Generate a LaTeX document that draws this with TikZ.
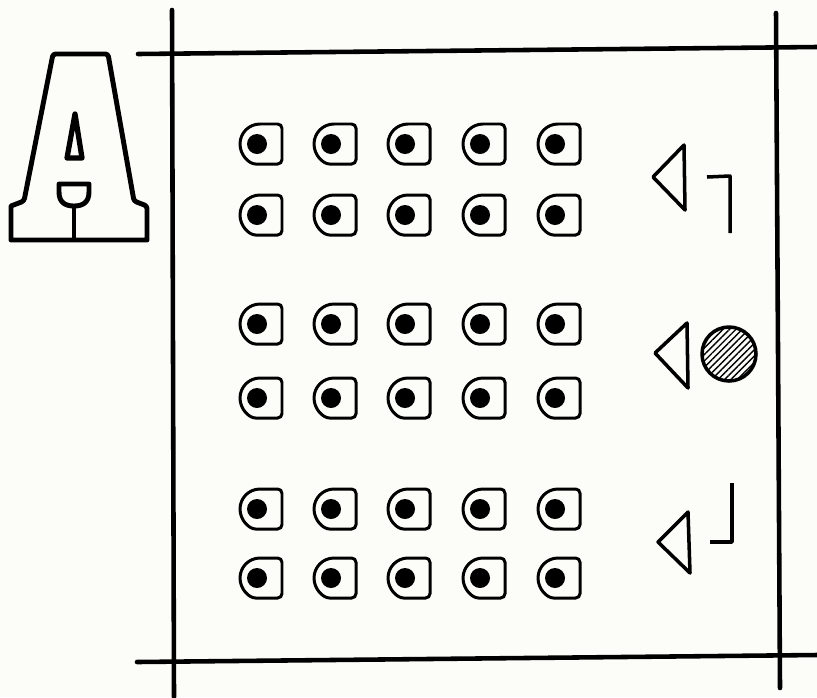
\documentclass[tikz,border=0pt]{standalone}
\usepackage{tikz}
\usetikzlibrary{patterns.meta}

\definecolor{paper}{RGB}{252,252,248}

\begin{document}
\begin{tikzpicture}[x=0.02cm, y=-0.02cm,
		frame/.style={line width=2.6pt, line cap=round},
		letter/.style={line width=2.8pt, line join=round},
		deskline/.style={line width=1.7pt},
		teacher/.style={line width=2pt, line join=round},
		desk/.pic={
			\draw[deskline, rounded corners=2.5pt] (-1,-20) -- (21,-20) -- (21,20) -- (-1,20)
				[sharp corners] arc[start angle=90, end angle=270, radius=20] -- cycle;
			\fill (-4,0) circle[radius=10];
		}]

		% Page size in pixels of the scan
		\fill[paper] (0,0) rectangle (817,697);
		\useasboundingbox (0,0) rectangle (817,697);

		% Column and row positions of the desks
		\def\xA{261}
		\def\xB{335}
		\def\xC{409}
		\def\xD{484}
		\def\xE{559}

		\def\yone{144}
		\def\ytwo{215}
		\def\ythree{324}
		\def\yfour{398}
		\def\yfive{509}
		\def\ysix{578}

		% --- Frame of the room ---
		\draw[frame] (172,10) -- (174,697);
		\draw[frame] (776,13) -- (780,688);
		\draw[frame] (138,54) -- (817,47);
		\draw[frame] (137,662) -- (817,655);

		% --- Letter A ---
		\draw[letter, rounded corners=1.5pt] (53,54) -- (108,54) -- (134,201) -- (147,206)
			[sharp corners] -- (147,240) -- (11,240) -- (11,206)
			[rounded corners=1.5pt] -- (24,201) -- cycle;
		\draw[letter, line width=3pt] (75,114) -- (82,158) -- (67,158) -- cycle;
		\draw[letter] (59,184) -- (89,184) -- (89,192) .. controls (89,203) and (82,206) .. (74,206)
			.. controls (66,206) and (59,203) .. (59,192) -- cycle;
		\draw[letter] (74,206) -- (74,240);

		% --- Desks ---
		\foreach \y in {\yone,\ytwo,\ythree,\yfour,\yfive,\ysix}
			\foreach \x in {\xA,\xB,\xC,\xD,\xE}
				\pic at (\x,\y) {desk};

		% --- Teacher positions ---
		\draw[teacher] (653,177) -- (684,145) -- (685,210) -- cycle;
		\draw[teacher] (707,177) -- (730,176) -- (730,233);

		\draw[teacher] (655,353) -- (687,323) -- (688,388) -- cycle;
		\draw[teacher, pattern={Lines[angle=45, distance=2.6pt, line width=0.8pt]}] (729,354) circle[radius=27];

		\draw[teacher] (658,542) -- (688,512) -- (690,573) -- cycle;
		\draw[teacher] (732,483) -- (732,542) -- (710,542);

	\end{tikzpicture}
\end{document}
